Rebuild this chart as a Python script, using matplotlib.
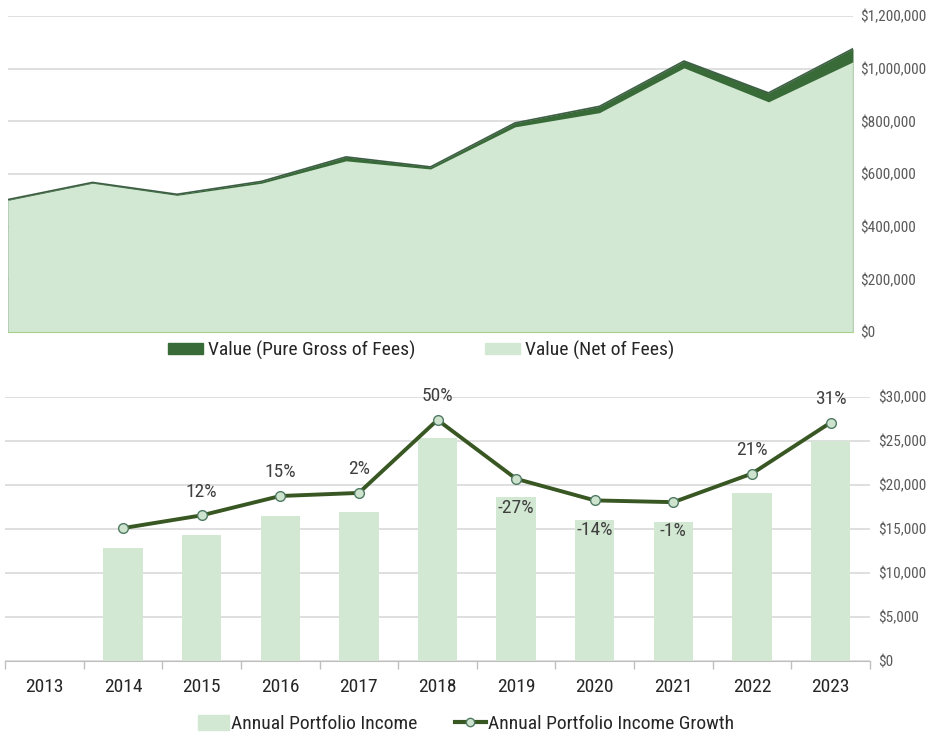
import matplotlib
matplotlib.use("Agg")
import matplotlib.pyplot as plt
import numpy as np
from matplotlib.lines import Line2D
from matplotlib.patches import Patch
from matplotlib.ticker import FuncFormatter, MultipleLocator

# data
years = [2013, 2014, 2015, 2016, 2017, 2018, 2019, 2020, 2021, 2022, 2023]
value_gross = [503000, 568000, 523000, 572000, 665000, 627000, 794000, 857000, 1029000, 908000, 1076000]
value_net = [500000, 565000, 519000, 565000, 650000, 619000, 779000, 833000, 1003000, 874000, 1026000]

income = [np.nan, 12800, 14350, 16500, 16900, 25300, 18650, 16050, 15800, 19100, 25050]
growth_level = [np.nan, 15100, 16550, 18750, 19100, 27400, 20700, 18250, 18050, 21300, 27100]
growth_pct = [None, None, 12, 15, 2, 50, -27, -14, -1, 21, 31]

DARK = "#386b38"
LIGHT = "#d3e8d3"
EDGE = "#a9d18e"
LINE = "#385723"
GRID = "#d9d9d9"
TXT = "#404040"

# narrow face, close to the one in the reference
plt.rcParams["font.family"] = ["Roboto Condensed", "DejaVu Sans"]
plt.rcParams["font.stretch"] = "condensed"

fig = plt.figure(figsize=(9.42, 7.36), dpi=100)

# ---- top: portfolio value area chart ----
ax1 = fig.add_axes([8 / 942, 1 - 332 / 736, 845 / 942, 316 / 736])
ax1.fill_between(years, 0, value_gross, color=DARK, lw=0, zorder=2)
ax1.plot(years, value_gross, color="#3d5e45", lw=1.2, zorder=2)
ax1.fill_between(years, 0, value_net, color=LIGHT, lw=0, zorder=3)
ax1.plot([years[-1], years[-1]], [0, value_net[-1]], color=EDGE, lw=1, zorder=4)
ax1.set_xlim(years[0], years[-1])
ax1.set_ylim(0, 1200000)
ax1.yaxis.set_major_locator(MultipleLocator(200000))
ax1.yaxis.tick_right()
ax1.yaxis.set_major_formatter(FuncFormatter(lambda v, p: f"${v:,.0f}"))
ax1.tick_params(axis="y", length=0, pad=5, labelsize=11, labelcolor="#595959")
ax1.set_xticks([])
ax1.grid(axis="y", color=GRID, lw=1.2, zorder=0)
ax1.set_axisbelow(True)
for s in ["left", "top", "right"]:
    ax1.spines[s].set_visible(False)
ax1.spines["bottom"].set_color(EDGE)
ax1.spines["bottom"].set_zorder(5)

fig.legend(handles=[Patch(color=DARK, label="Value (Pure Gross of Fees)"),
                    Patch(color=LIGHT, label="Value (Net of Fees)")],
           loc="center", bbox_to_anchor=(421 / 942, 1 - 350 / 736), ncol=2,
           frameon=False, fontsize=14, handlelength=1.8, handleheight=0.5,
           handletextpad=0.25, columnspacing=3.6, labelcolor="#262626")

# ---- bottom: income bars + growth line ----
ax2 = fig.add_axes([5 / 942, 1 - 661 / 736, 865 / 942, 264 / 736])
x = np.arange(len(years))
ax2.bar(x, income, width=0.5, color=LIGHT, zorder=2)
ax2.plot(x, growth_level, color=LINE, lw=2.8, marker="o", ms=7,
         mfc="#cde3cd", mec="#4f7a63", mew=1, zorder=3)
for xi, yv, g in zip(x, growth_level, growth_pct):
    if g is None:
        continue
    off = 17 if g >= 0 else -21
    ax2.annotate(f"{g}%", (xi, yv), xytext=(0, off), textcoords="offset points",
                 ha="center", va="center", fontsize=14, color=TXT, zorder=4)

ax2.set_xlim(-0.5, len(years) - 0.5)
ax2.set_ylim(0, 30000)
ax2.yaxis.set_major_locator(MultipleLocator(5000))
ax2.yaxis.tick_right()
ax2.yaxis.set_major_formatter(FuncFormatter(lambda v, p: f"${v:,.0f}"))
ax2.tick_params(axis="y", length=0, pad=6, labelsize=11, labelcolor="#595959")
ax2.set_xticks(x)
ax2.set_xticklabels([str(y) for y in years])
ax2.set_xticks(np.arange(-0.5, len(years)), minor=True)
ax2.tick_params(axis="x", which="major", length=0, pad=12, labelsize=14, labelcolor="#262626")
ax2.tick_params(axis="x", which="minor", length=6, color="#bfbfbf", width=1)
ax2.grid(axis="y", color=GRID, lw=1.2, zorder=0)
ax2.set_axisbelow(True)
for s in ["left", "top", "right"]:
    ax2.spines[s].set_visible(False)
ax2.spines["bottom"].set_color("#bfbfbf")

fig.legend(handles=[Patch(color=LIGHT, label="Annual Portfolio Income"),
                    Line2D([], [], color=LINE, lw=3, marker="o", ms=6,
                           mfc="#cde3cd", mec="#4f7a63",
                           label="Annual Portfolio Income Growth")],
           loc="center", bbox_to_anchor=(466 / 942, 1 - 724 / 736), ncol=2,
           frameon=False, fontsize=14, handlelength=1.6, handleheight=0.8,
           handletextpad=0.1, columnspacing=1.9, labelcolor="#262626")

fig.savefig("out.png", dpi=100, facecolor="white")
